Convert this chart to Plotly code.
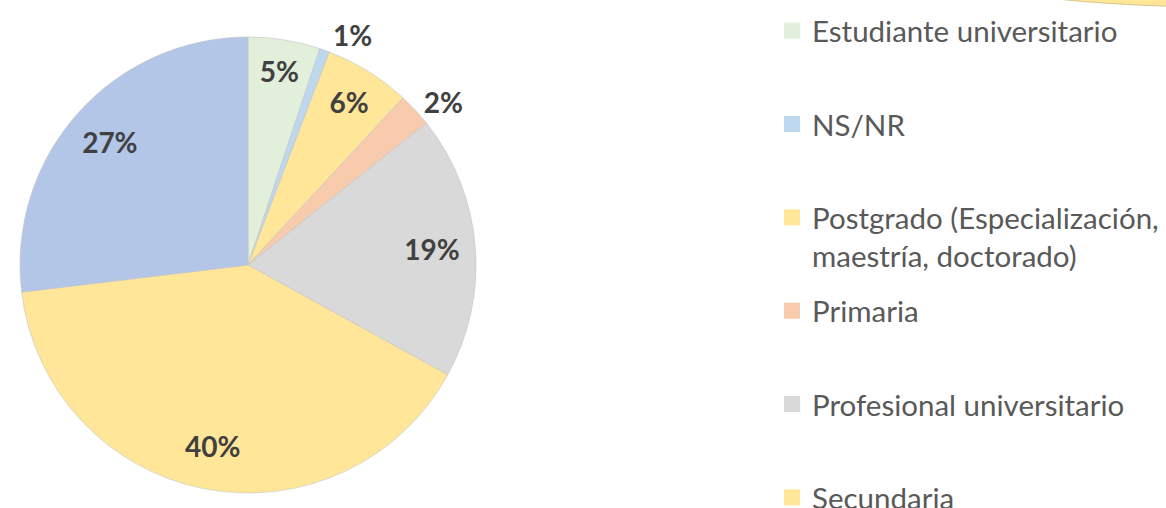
import plotly.graph_objects as go

# ---- data ----
categories = [
    "Estudiante universitario",
    "NS/NR",
    "Postgrado (Especialización,<br>maestría, doctorado)",
    "Primaria",
    "Profesional universitario",
    "Secundaria",
    "Técnico/Tecnólogo",
]
values = [5.1, 0.7, 6.1, 2.4, 18.7, 40.1, 26.9]
colors = ["#E2EFDA", "#BDD7EE", "#FFE699", "#F8CBAD", "#D9D9D9", "#FFE699", "#B4C6E7"]

# ---- style ----
W, H = 1166, 508
label_positions = ["inside", "outside", "inside", "outside", "inside", "inside", "inside"]
label_font = dict(family="Lato", size=28, color="#404040", weight="bold")
pie_domain = dict(x=[20 / W, 476 / W], y=[1 - 493 / H, 1 - 37 / H])

fig = go.Figure()

# filled pie
fig.add_trace(go.Pie(
    labels=categories, values=values, sort=False, direction="clockwise", rotation=0,
    marker=dict(colors=colors, line=dict(color="#c4c4c4", width=0.6)),
    textinfo="none", showlegend=False, domain=pie_domain,
    hovertemplate="%{label}: %{percent:.0%}<extra></extra>",
))

# label layer (transparent ring so labels sit near the rim)
fig.add_trace(go.Pie(
    labels=categories, values=values, sort=False, direction="clockwise", rotation=0,
    hole=0.62,
    marker=dict(colors=["rgba(0,0,0,0)"] * len(values), line=dict(width=0)),
    texttemplate="%{percent:.0%}", textposition=label_positions,
    insidetextorientation="horizontal",
    insidetextfont=label_font, outsidetextfont=label_font,
    showlegend=False, hoverinfo="skip", domain=pie_domain,
))

# legend entries
for i, (cat, col) in enumerate(zip(categories, colors)):
    fig.add_trace(go.Scatter(
        x=[None], y=[None], mode="markers",
        marker=dict(symbol="square", size=18, color=col),
        name=cat, legendgroup=cat, hoverinfo="skip",
        legend="legend" if i < 3 else "legend2",
    ))

legend_common = dict(
    font=dict(family="Lato", size=29.5, color="#595959"),
    tracegroupgap=52, valign="top", bgcolor="rgba(0,0,0,0)",
    xanchor="left", yanchor="top", itemsizing="trace",
)

fig.update_layout(
    width=W, height=H,
    margin=dict(l=0, r=0, t=0, b=0, autoexpand=False),
    paper_bgcolor="white", plot_bgcolor="white",
    xaxis=dict(visible=False), yaxis=dict(visible=False),
    legend=dict(x=772 / W, y=1 - 5 / H, **legend_common),
    legend2=dict(x=772 / W, y=1 - 285 / H, **legend_common),
    shapes=[dict(
        type="circle", xref="paper", yref="paper",
        x0=925 / W, x1=1525 / W, y0=1 - 7 / H, y1=1 + 86 / H,
        fillcolor="#FFE699", line=dict(color="#d8c58a", width=1), layer="below",
    )],
)

fig.write_html(
    "out.html",
    config={"displayModeBar": False},
    post_script="document.body.style.margin='0px';",
)
